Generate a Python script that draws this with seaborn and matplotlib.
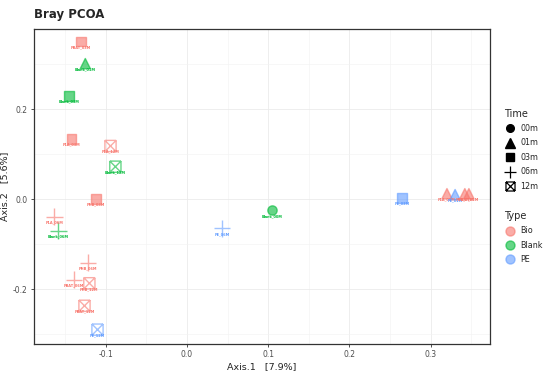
import numpy as np
import pandas as pd
import matplotlib
matplotlib.use("Agg")
import matplotlib.pyplot as plt
from matplotlib.path import Path
from matplotlib.lines import Line2D
from matplotlib.ticker import MultipleLocator
import seaborn as sns

# ------------------------------
# data
# ------------------------------
sample = ["PBAT_03M", "Blank_01M", "Blank_03M", "PLA_03M", "PLA_12M", "Blank_12M",
          "PHB_03M", "PLA_06M", "Blank_06M", "PHB_06M", "PBAT_06M", "PHB_12M",
          "PBAT_12M", "PE_12M", "PE_06M", "Blank_00M", "PE_03M",
          "PLA_01M", "PE_01M", "PHB_01M", "PBAT_01M"]
axis1 = [-0.130, -0.125, -0.145, -0.142, -0.094, -0.088,
         -0.112, -0.163, -0.158, -0.122, -0.139, -0.120,
         -0.126, -0.110, 0.043, 0.105, 0.265,
         0.320, 0.330, 0.342, 0.347]
axis2 = [0.350, 0.301, 0.229, 0.134, 0.118, 0.072,
         0.000, -0.039, -0.070, -0.141, -0.179, -0.187,
         -0.237, -0.290, -0.065, -0.025, 0.003,
         0.012, 0.010, 0.012, 0.012]
sample_type = ["Bio", "Blank", "Blank", "Bio", "Bio", "Blank",
               "Bio", "Bio", "Blank", "Bio", "Bio", "Bio",
               "Bio", "PE", "PE", "Blank", "PE",
               "Bio", "PE", "Bio", "Bio"]
time = ["03m", "01m", "03m", "03m", "12m", "12m",
        "03m", "06m", "06m", "06m", "06m", "12m",
        "12m", "12m", "06m", "00m", "03m",
        "01m", "01m", "01m", "01m"]

time_levels = ["00m", "01m", "03m", "06m", "12m"]
type_levels = ["Bio", "Blank", "PE"]
palette = {"Bio": "#F8766D", "Blank": "#00BA38", "PE": "#619CFF"}

df = pd.DataFrame({"Axis.1": axis1, "Axis.2": axis2, "Type": sample_type,
                   "Time": time, "Sample": sample})

# ------------------------------
# markers (ggplot shapes 16, 17, 15, 3, 7)
# ------------------------------
M, L = Path.MOVETO, Path.LINETO
plus = Path([(-1, 0), (1, 0), (0, -1), (0, 1)], [M, L, M, L])
sq = [(-0.7, -0.7), (0.7, -0.7), (0.7, 0.7), (-0.7, 0.7)]
box_x = Path([sq[0], sq[1], sq[1], sq[2], sq[2], sq[3], sq[3], sq[0],
              sq[0], sq[2], sq[1], sq[3]],
             [M, L, M, L, M, L, M, L, M, L, M, L])
markers = {"00m": "o", "01m": "^", "03m": "s", "06m": plus, "12m": box_x}
sizes = {"00m": 45, "01m": 55, "03m": 50, "06m": 140, "12m": 65}

# ------------------------------
# plot
# ------------------------------
sns.set_style("white")
fig = plt.figure(figsize=(5.5, 3.76), dpi=100)
ax = fig.add_axes([0.062, 0.085, 0.829, 0.838])

for t in time_levels:
    sub = df[df["Time"] == t]
    sns.scatterplot(data=sub, x="Axis.1", y="Axis.2", hue="Type", hue_order=type_levels,
                    palette=palette, marker=markers[t], s=sizes[t], alpha=0.6,
                    edgecolor="face", linewidth=1.0, legend=False, ax=ax)

for _, r in df.iterrows():
    ax.text(r["Axis.1"], r["Axis.2"] - 0.008, r["Sample"], fontsize=2.5,
            color=palette[r["Type"]], ha="center", va="top", fontweight="bold")

ax.set_xlim(-0.188, 0.373)
ax.set_ylim(-0.322, 0.378)
ax.xaxis.set_major_locator(MultipleLocator(0.1))
ax.xaxis.set_minor_locator(MultipleLocator(0.05))
ax.yaxis.set_major_locator(MultipleLocator(0.2))
ax.yaxis.set_minor_locator(MultipleLocator(0.1))
ax.xaxis.set_major_formatter(plt.FuncFormatter(lambda v, p: f"{v:.1f}"))
ax.yaxis.set_major_formatter(plt.FuncFormatter(lambda v, p: f"{v:.1f}"))
ax.grid(True, which="major", color="#ebebeb", linewidth=0.6)
ax.grid(True, which="minor", color="#f2f2f2", linewidth=0.4)
ax.set_axisbelow(True)
for s in ax.spines.values():
    s.set_color("#333333")
    s.set_linewidth(0.9)
ax.tick_params(axis="both", which="major", labelsize=5.5, labelcolor="#4d4d4d",
               length=2.5, width=0.6, color="#333333", pad=2, left=True, bottom=True)
ax.tick_params(axis="both", which="minor", length=0)

ax.set_xlabel("Axis.1   [7.9%]", fontsize=6.8, color="#222222", labelpad=2)
ax.set_ylabel("Axis.2   [5.6%]", fontsize=6.8, color="#222222", labelpad=3)
fig.text(0.062, 0.945, "Bray PCOA", fontsize=8.5, fontweight="bold", ha="left", va="bottom")

# legend: Time then Type
handles = [Line2D([], [], linestyle="", label="Time")]
leg_sizes = {"00m": 5.5, "01m": 6.5, "03m": 6, "06m": 9, "12m": 6.5}
for t in time_levels:
    m = markers[t]
    if t in ("06m", "12m"):
        handles.append(Line2D([], [], linestyle="", marker=m, markersize=leg_sizes[t],
                              markerfacecolor="none", markeredgecolor="black",
                              markeredgewidth=0.9, label=t))
    else:
        handles.append(Line2D([], [], linestyle="", marker=m, markersize=leg_sizes[t],
                              color="black", label=t))
handles.append(Line2D([], [], linestyle="", label=" "))
handles.append(Line2D([], [], linestyle="", label="Type"))
for k in type_levels:
    handles.append(Line2D([], [], linestyle="", marker="o", markersize=6.5,
                          color=palette[k], alpha=0.6, label=k))

leg = fig.legend(handles=handles, loc="upper left", bbox_to_anchor=(0.912, 0.72),
                 frameon=False, fontsize=5.8, handlelength=1.2, handletextpad=0.7,
                 labelspacing=0.68, borderaxespad=0)
for txt in leg.get_texts():
    if txt.get_text() in ("Time", "Type"):
        txt.set_fontsize(7)
        txt.set_x(-16)

plt.savefig("out.png", dpi=100)
plt.close()
